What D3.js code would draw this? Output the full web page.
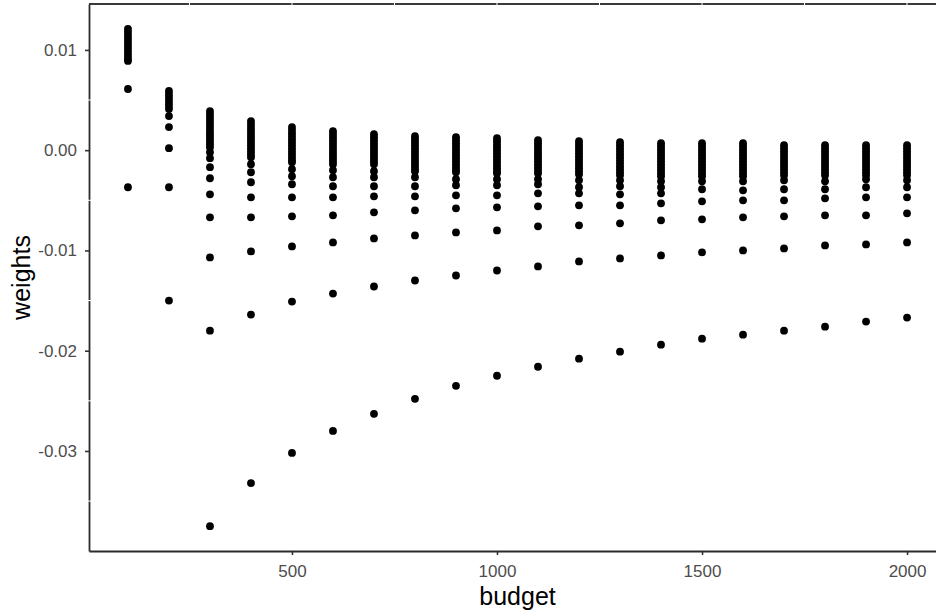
<!DOCTYPE html>
<html>
<head>
<meta charset="utf-8">
<script src="https://cdn.jsdelivr.net/npm/d3@7"></script>
<style>
	body { margin: 0; background: #fff; }
	text { font-family: "Liberation Sans", Arial, sans-serif; }
</style>
</head>
<body>
<script>
// budgets on the x axis
var budget = [100, 200, 300, 400, 500, 600, 700, 800, 900, 1000,
              1100, 1200, 1300, 1400, 1500, 1600, 1700, 1800, 1900, 2000];

// weights, one list per budget
var w100  = [0.0121, 0.0118, 0.0115, 0.0112, 0.0109, 0.0106, 0.0103, 0.0100, 0.0097, 0.0094, 0.0091, 0.0089,
             0.0061, -0.0037];
var w200  = [0.0059, 0.0056, 0.0053, 0.0050, 0.0047, 0.0044, 0.0041,
             0.0034, 0.0023, 0.0002, -0.0037, -0.0150];
var w300  = [0.0039, 0.0036, 0.0033, 0.0030, 0.0027, 0.0024, 0.0021, 0.0018, 0.0015, 0.0012, 0.0009, 0.0006, 0.0003,
             -0.0002, -0.0008, -0.0017, -0.0028, -0.0044, -0.0067, -0.0107, -0.0180, -0.0375];
var w400  = [0.0029, 0.0026, 0.0023, 0.0020, 0.0017, 0.0014, 0.0011, 0.0008, 0.0005, 0.0002, -0.0001, -0.0004, -0.0007,
             -0.0014, -0.0022, -0.0032, -0.0047, -0.0067, -0.0101, -0.0164, -0.0332];
var w500  = [0.0023, 0.0020, 0.0017, 0.0014, 0.0011, 0.0008, 0.0005, 0.0002, -0.0001, -0.0004, -0.0007, -0.0010, -0.0012,
             -0.0019, -0.0026, -0.0034, -0.0047, -0.0066, -0.0096, -0.0151, -0.0302];
var w600  = [0.0019, 0.0016, 0.0013, 0.0010, 0.0007, 0.0004, 0.0001, -0.0002, -0.0005, -0.0008, -0.0011, -0.0014,
             -0.0020, -0.0027, -0.0036, -0.0047, -0.0065, -0.0092, -0.0143, -0.0280];
var w700  = [0.0016, 0.0013, 0.0010, 0.0007, 0.0004, 0.0001, -0.0002, -0.0005, -0.0008, -0.0011, -0.0014,
             -0.0021, -0.0027, -0.0036, -0.0046, -0.0062, -0.0088, -0.0136, -0.0263];
var w800  = [0.0014, 0.0011, 0.0008, 0.0005, 0.0002, -0.0001, -0.0004, -0.0007, -0.0010, -0.0013, -0.0016, -0.0019, -0.0021,
             -0.0027, -0.0036, -0.0046, -0.0060, -0.0085, -0.0130, -0.0248];
var w900  = [0.0013, 0.0010, 0.0007, 0.0004, 0.0001, -0.0002, -0.0005, -0.0008, -0.0011, -0.0014, -0.0017, -0.0020, -0.0022,
             -0.0029, -0.0035, -0.0045, -0.0058, -0.0082, -0.0125, -0.0235];
var w1000 = [0.0012, 0.0009, 0.0006, 0.0003, 0.0000, -0.0003, -0.0006, -0.0009, -0.0012, -0.0015, -0.0018, -0.0021, -0.0023,
             -0.0029, -0.0035, -0.0045, -0.0057, -0.0080, -0.0120, -0.0225];
var w1100 = [0.0010, 0.0007, 0.0004, 0.0001, -0.0002, -0.0005, -0.0008, -0.0011, -0.0014, -0.0017, -0.0020, -0.0023,
             -0.0029, -0.0034, -0.0043, -0.0056, -0.0076, -0.0116, -0.0216];
var w1200 = [0.0009, 0.0006, 0.0003, 0.0000, -0.0003, -0.0006, -0.0009, -0.0012, -0.0015, -0.0018, -0.0021, -0.0024,
             -0.0030, -0.0037, -0.0043, -0.0055, -0.0075, -0.0111, -0.0208];
var w1300 = [0.0008, 0.0005, 0.0002, -0.0001, -0.0004, -0.0007, -0.0010, -0.0013, -0.0016, -0.0019, -0.0022, -0.0025,
             -0.0030, -0.0036, -0.0044, -0.0055, -0.0073, -0.0108, -0.0201];
var w1400 = [0.0007, 0.0004, 0.0001, -0.0002, -0.0005, -0.0008, -0.0011, -0.0014, -0.0017, -0.0020, -0.0023, -0.0026,
             -0.0031, -0.0037, -0.0043, -0.0053, -0.0070, -0.0105, -0.0194];
var w1500 = [0.0007, 0.0004, 0.0001, -0.0002, -0.0005, -0.0008, -0.0011, -0.0014, -0.0017, -0.0020, -0.0023, -0.0026,
             -0.0031, -0.0039, -0.0051, -0.0069, -0.0102, -0.0188];
var w1600 = [0.0007, 0.0004, 0.0001, -0.0002, -0.0005, -0.0008, -0.0011, -0.0014, -0.0017, -0.0020, -0.0023, -0.0026,
             -0.0031, -0.0040, -0.0050, -0.0067, -0.0100, -0.0184];
var w1700 = [0.0005, 0.0002, -0.0001, -0.0004, -0.0007, -0.0010, -0.0013, -0.0016, -0.0019, -0.0022, -0.0025,
             -0.0030, -0.0039, -0.0050, -0.0066, -0.0098, -0.0180];
var w1800 = [0.0005, 0.0002, -0.0001, -0.0004, -0.0007, -0.0010, -0.0013, -0.0016, -0.0019, -0.0022, -0.0025,
             -0.0031, -0.0039, -0.0048, -0.0065, -0.0095, -0.0176];
var w1900 = [0.0005, 0.0002, -0.0001, -0.0004, -0.0007, -0.0010, -0.0013, -0.0016, -0.0019, -0.0022, -0.0025,
             -0.0029, -0.0037, -0.0047, -0.0065, -0.0094, -0.0171];
var w2000 = [0.0005, 0.0002, -0.0001, -0.0004, -0.0007, -0.0010, -0.0013, -0.0016, -0.0019, -0.0022, -0.0025,
             -0.0030, -0.0037, -0.0047, -0.0063, -0.0092, -0.0167];

var weights = [w100, w200, w300, w400, w500, w600, w700, w800, w900, w1000,
               w1100, w1200, w1300, w1400, w1500, w1600, w1700, w1800, w1900, w2000];

var xTicks = [500, 1000, 1500, 2000];
var xMinor = [250, 750, 1250, 1750];
var yTicks = [-0.03, -0.02, -0.01, 0.00, 0.01];
var yTickLabels = ["-0.03", "-0.02", "-0.01", "0.00", "0.01"];
var yMinor = [0.005, -0.005, -0.015, -0.025, -0.035];

var width = 936, height = 615;
// panel edges (the right edge lies past the picture and is cut off)
var pLeft = 89, pRight = 946, pTop = 4, pBottom = 551;

// flatten into points
var points = [];
budget.forEach(function (b, i) {
	weights[i].forEach(function (w) { points.push({budget: b, weight: w}); });
});

// ggplot style 5% expansion
function expand(ext) {
	var pad = (ext[1] - ext[0]) * 0.05;
	return [ext[0] - pad, ext[1] + pad];
}

var x = d3.scaleLinear()
	.domain(expand(d3.extent(budget)))
	.range([pLeft, pRight]);
var y = d3.scaleLinear()
	.domain(expand(d3.extent(points, function (d) { return d.weight; })))
	.range([pBottom, pTop]);

var svg = d3.select("body").append("svg")
	.attr("width", width)
	.attr("height", height);

// top border of the panel
svg.append("line")
	.attr("x1", pLeft).attr("x2", pRight)
	.attr("y1", pTop).attr("y2", pTop)
	.style("stroke", "#3a3a3a")
	.style("stroke-width", 2);

// axes
var yAxis = svg.append("g")
	.attr("transform", "translate(" + pLeft + ",0)")
	.call(d3.axisLeft(y).tickValues(yTicks)
		.tickFormat(function (d, i) { return yTickLabels[i]; })
		.tickSize(4).tickSizeOuter(0).tickPadding(8));
var xAxis = svg.append("g")
	.attr("transform", "translate(0," + pBottom + ")")
	.call(d3.axisBottom(x).tickValues(xTicks)
		.tickFormat(d3.format("d"))
		.tickSize(4).tickSizeOuter(0).tickPadding(10));

[yAxis, xAxis].forEach(function (ax) {
	ax.select(".domain").style("stroke", "#2b2b2b").style("stroke-width", 1.8);
	ax.selectAll(".tick line").style("stroke", "#333").style("stroke-width", 1.6);
	ax.selectAll(".tick text")
		.style("font-size", "17px")
		.style("fill", "#4d4d4d")
		.style("font-family", "'Liberation Sans', Arial, sans-serif");
});

// white grid lines cut tiny gaps into the border lines
xTicks.concat(xMinor).forEach(function (v) {
	svg.append("line")
		.attr("x1", x(v)).attr("x2", x(v))
		.attr("y1", pTop - 2).attr("y2", pTop + 2)
		.style("stroke", "#fff").style("stroke-width", 1);
});
yMinor.forEach(function (v) {
	svg.append("line")
		.attr("x1", pLeft - 2).attr("x2", pLeft + 2)
		.attr("y1", y(v)).attr("y2", y(v))
		.style("stroke", "#fff").style("stroke-width", 1);
});

// points
svg.append("g").selectAll("circle")
	.data(points)
	.enter().append("circle")
	.attr("cx", function (d) { return x(d.budget); })
	.attr("cy", function (d) { return y(d.weight); })
	.attr("r", 3.9)
	.style("fill", "#000");

// axis titles
svg.append("text")
	.attr("x", (pLeft + pRight) / 2)
	.attr("y", 605)
	.attr("text-anchor", "middle")
	.style("font-size", "25px")
	.style("fill", "#000")
	.text("budget");

svg.append("text")
	.attr("transform", "translate(30," + (pTop + pBottom) / 2 + ") rotate(-90)")
	.attr("text-anchor", "middle")
	.style("font-size", "25px")
	.style("fill", "#000")
	.text("weights");
</script>
</body>
</html>
